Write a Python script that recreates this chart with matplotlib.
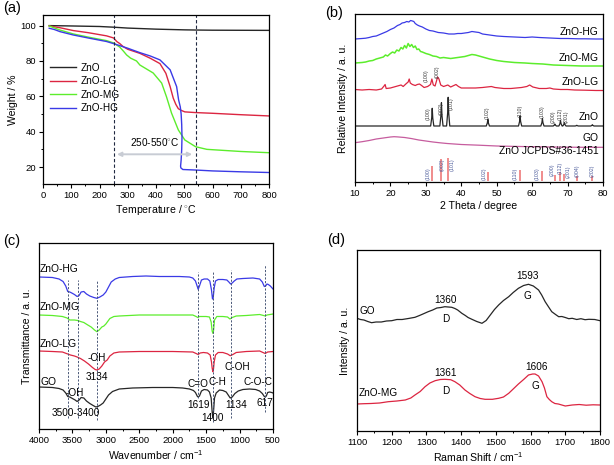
import numpy as np
import matplotlib
matplotlib.use("Agg")
import matplotlib.pyplot as plt
from matplotlib.ticker import MultipleLocator, NullLocator

plt.rcParams['font.family'] = ['Liberation Sans', 'DejaVu Sans']
plt.rcParams['mathtext.fontset'] = 'custom'
plt.rcParams['mathtext.rm'] = 'Liberation Sans'

# ---------------- (a) TGA data ----------------
tga_labels = ["ZnO", "ZnO-LG", "ZnO-MG", "ZnO-HG"]
tga_zno_T = [22, 100, 200, 250, 300, 400, 500, 540, 600, 700, 800]
tga_zno_W = [100, 99.8, 99.5, 99.1, 98.6, 98.0, 97.6, 97.5, 97.4, 97.35, 97.3]
tga_lg_T = [22, 60, 107, 160, 225, 250, 261, 272, 284, 300, 343, 380, 414, 435, 450, 461, 470, 479, 490, 502, 540, 600, 700, 800]
tga_lg_W = [99.8, 98.8, 97.2, 96.0, 94.2, 93.0, 91.0, 89.8, 88.1, 86.6, 84.3, 81.5, 78.5, 73.0, 65.5, 59.0, 55.5, 53.0, 52.0, 51.2, 50.8, 50.4, 49.6, 48.9]
tga_mg_T = [22, 60, 107, 160, 225, 250, 272, 285, 296, 310, 331, 343, 390, 420, 437, 455, 479, 502, 540, 580, 650, 700, 800]
tga_mg_W = [99.8, 97.5, 95.3, 93.5, 91.5, 90.2, 87.8, 85.5, 83.4, 81.6, 80.0, 77.7, 73.2, 67.5, 59.8, 50.5, 41.0, 35.3, 31.5, 30.0, 29.3, 28.8, 28.1]
tga_hg_T = [22, 40, 60, 107, 160, 225, 250, 300, 343, 380, 414, 450, 473, 480, 486, 489, 491, 492, 491, 489, 487, 488, 495, 540, 600, 700, 800]
tga_hg_W = [98.5, 97.8, 96.6, 94.7, 93.0, 91.0, 89.8, 87.2, 84.7, 82.8, 80.6, 75.0, 65.5, 58.0, 54.0, 50.0, 44.0, 37.0, 30.0, 24.0, 20.5, 19.5, 18.6, 18.3, 17.8, 17.3, 16.9]
tga_marks = [250, 540]
tga_range_text = "250-550$^{\\circ}$C"

# ---------------- (b) XRD data ----------------
xrd_labels = ["ZnO-HG", "ZnO-MG", "ZnO-LG", "ZnO", "GO", "ZnO JCPDS#36-1451"]
xrd_hg_x = [10, 12, 13, 14, 15, 16, 17, 18, 19, 20, 21, 22, 22.7, 23.3, 24, 24.6, 25.2, 25.7, 26.2, 26.6, 27, 27.6, 28.2, 29, 30, 31, 32, 33.5, 35, 36.5, 38, 39, 40, 41, 42, 43, 44, 45, 46, 48, 50, 52, 55, 58, 60, 62, 65, 68, 70, 73, 75, 78, 80]
xrd_hg_y = [143, 143.5, 143.8, 144.5, 145.5, 146, 147.5, 149, 150.5, 152.5, 154, 156.5, 157.5, 159, 159.5, 160.5, 160, 161.5, 161, 160.5, 158.5, 157, 156, 155, 153, 151.5, 151, 149.5, 149, 148, 148, 148.5, 148.5, 149, 149.5, 150.5, 150, 149.5, 148, 147, 146, 145.5, 145, 144.5, 145, 144.5, 144, 143.5, 143.5, 143.2, 143.2, 143, 143]
xrd_mg_x = [10, 12, 13, 14, 15, 16, 17, 18, 18.6, 19.2, 20, 20.6, 21.2, 21.8, 22.4, 23, 23.5, 24, 24.5, 25, 25.5, 26, 26.5, 27, 27.5, 28, 28.5, 29, 30, 31, 32, 33, 34, 35, 36, 37, 38, 39, 40, 41, 42, 43, 44, 45, 46, 48, 50, 52, 55, 58, 60, 63, 66, 70, 74, 77, 80]
xrd_mg_y = [119, 119.5, 120, 121, 121.5, 123, 124, 125, 127, 126, 128.5, 130, 129, 132, 131, 134.5, 133, 136.5, 134, 138.5, 135.5, 137.5, 134.5, 136, 132.5, 133, 130.5, 130, 128.5, 127.5, 126, 125.5, 124, 124.5, 124, 123.5, 124, 124.5, 125, 125.5, 126.5, 127.5, 127, 126, 125, 123, 121.5, 120.5, 119.5, 119, 118.5, 118, 117, 116.5, 116, 116, 116]
xrd_lg_x = [10, 12, 14, 16, 17.5, 18.2, 18.5, 18.8, 20, 21.5, 22.5, 23, 23.6, 24.5, 25, 25.3, 25.6, 26.2, 27, 27.6, 28.2, 28.8, 29.5, 30.5, 31.3, 31.7, 32.1, 32.6, 33.0, 33.3, 33.7, 34.2, 35, 36.2, 37, 38.5, 39.2, 40, 42, 44, 46, 48.5, 49.5, 52, 54, 55.5, 57, 58.5, 59.3, 60.2, 62, 64, 65, 66, 68, 70, 72, 75, 78, 80]
xrd_lg_y = [92.5, 92, 92.5, 92, 93, 96, 97.5, 93.5, 94, 95.5, 96.5, 97, 95.5, 98.5, 100, 103, 99, 97.5, 96.5, 97.5, 98, 96.5, 94.5, 95.5, 97.5, 103, 97, 96, 101, 105, 103, 97, 95.5, 97, 95, 97.5, 95.5, 94, 94, 94, 94.5, 95.5, 94.5, 93.5, 93.5, 94, 94.5, 95.5, 97, 95, 93.5, 93.5, 94, 93, 92.5, 92.5, 92, 91.8, 91.5, 91.5]
zno_peak_pos = [31.8, 34.4, 36.3, 47.5, 56.6, 62.9, 66.4, 68.0, 69.1, 72.6, 77.0]
zno_peak_int = [73.7, 79.3, 84.7, 62.7, 66.0, 63.3, 58.0, 61.3, 59.3, 56.7, 57.3]
zno_base = 56.0
xrd_go_x = [10, 12, 14, 16, 18, 20, 21, 22, 24, 26, 28, 30, 32, 34, 36, 38, 40, 45, 50, 55, 60, 65, 70, 75, 80]
xrd_go_y = [39.3, 40.3, 41.5, 43.0, 44.0, 45.0, 45.3, 45.1, 44.5, 43.4, 42.0, 41.0, 40.0, 39.2, 38.5, 38.0, 37.5, 36.8, 36.0, 35.6, 35.3, 35.0, 34.8, 34.7, 34.7]
jcpds_pos = [31.8, 34.4, 36.3, 47.5, 56.6, 62.9, 66.4, 68.0, 69.1, 72.6, 77.0]
jcpds_int = [15.3, 22.7, 23.7, 9.3, 11.3, 10.3, 6.0, 9.3, 7.0, 5.3, 5.3]
jcpds_hkl = ["(100)", "(002)", "(101)", "(102)", "(110)", "(103)", "(200)", "(112)", "(201)", "(004)", "(202)"]
jcpds_lab_x = [30.5, 34.5, 37.3, 46.4, 55.2, 61.4, 65.7, 67.9, 70.2, 72.8, 76.8]
jcpds_lab_y = [2.5, 11, 11, 2.5, 2.5, 2.5, 6, 8, 4, 5, 5]
zno_hkl = ["(100)", "(002)", "(101)", "(102)", "(110)", "(103)", "(200)", "(112)", "(201)"]
zno_lab_x = [30.7, 34.3, 37.1, 47.4, 56.6, 62.7, 66.0, 67.9, 69.7]
zno_lab_y = [62, 67, 72, 63, 65, 64, 59, 62, 59]
lg_hkl = ["(100)", "(002)"]
lg_lab_x = [30.1, 33.2]
lg_lab_y = [99.5, 104]

# ---------------- (c) FTIR data ----------------
ftir_labels = ["ZnO-HG", "ZnO-MG", "ZnO-LG", "GO"]
ftir_hg_x = [4000, 3800, 3700, 3640, 3600, 3570, 3540, 3510, 3470, 3430, 3400, 3370, 3330, 3290, 3240, 3180, 3134, 3090, 3040, 3000, 2960, 2920, 2860, 2800, 2600, 2400, 2200, 1900, 1750, 1700, 1660, 1630, 1619, 1600, 1570, 1530, 1480, 1445, 1420, 1405, 1395, 1380, 1360, 1320, 1250, 1190, 1160, 1134, 1110, 1080, 1040, 950, 800, 700, 660, 630, 610, 590, 570, 540, 500]
ftir_hg_y = [152, 151.5, 150, 147.5, 143, 137.5, 137, 136, 134.5, 132.5, 133.5, 137, 137.5, 135, 133, 131.5, 130.7, 132, 134, 137, 142, 147, 150, 151.5, 152.5, 153, 152.5, 152.5, 152, 151, 148, 142, 139.7, 143, 149, 150, 150, 148, 139, 130, 131, 141, 148, 149.5, 149.5, 149, 147, 145, 146, 148, 150, 150.5, 151, 150, 147, 142.5, 143, 145, 144.5, 143, 140]
ftir_mg_x = [4000, 3800, 3650, 3580, 3540, 3470, 3420, 3380, 3330, 3270, 3220, 3170, 3134, 3100, 3060, 3030, 3000, 2940, 2880, 2800, 2500, 2000, 1700, 1650, 1625, 1600, 1500, 1450, 1425, 1410, 1400, 1390, 1375, 1340, 1250, 1180, 1144, 1110, 1050, 900, 700, 640, 617, 590, 500]
ftir_mg_y = [114, 113.5, 112.5, 111, 109, 109, 108.5, 107.5, 106.5, 104, 102, 99, 97.3, 99, 102, 103, 105, 110.5, 112.5, 113, 114, 114, 114, 112.5, 111.5, 112.5, 112.5, 112, 107, 98, 95.7, 98, 109, 112.5, 112.5, 112, 110, 111.5, 113, 113.5, 114.5, 113.5, 113, 114, 115]
ftir_lg_x = [4000, 3800, 3650, 3590, 3530, 3470, 3430, 3380, 3320, 3260, 3200, 3160, 3134, 3100, 3060, 3020, 2980, 2940, 2880, 2800, 2500, 2000, 1700, 1650, 1620, 1590, 1540, 1480, 1440, 1420, 1410, 1400, 1390, 1380, 1360, 1320, 1250, 1180, 1140, 1100, 1050, 900, 700, 650, 617, 580, 500]
ftir_lg_y = [78, 77.5, 77, 75.5, 74, 73, 72, 70.5, 68, 65, 61.5, 59.5, 59, 60, 63, 67, 69, 73, 76, 77, 77.5, 77.5, 77, 75.5, 74.5, 76, 76.5, 76, 74, 67, 61, 57.3, 60, 67, 74, 76.5, 76.5, 75, 73.3, 74.5, 76.5, 77.5, 78, 76.5, 75.5, 77, 77.5]
ftir_go_x = [4000, 3800, 3700, 3640, 3600, 3570, 3540, 3500, 3460, 3430, 3400, 3370, 3330, 3290, 3240, 3190, 3150, 3120, 3080, 3040, 3000, 2960, 2900, 2800, 2600, 2300, 2000, 1850, 1750, 1690, 1660, 1630, 1619, 1600, 1570, 1530, 1480, 1450, 1425, 1410, 1400, 1390, 1375, 1350, 1300, 1250, 1200, 1170, 1140, 1110, 1070, 1020, 950, 850, 760, 700, 660, 630, 617, 600, 580, 550, 520, 500]
ftir_go_y = [42, 41.5, 40.5, 39, 36, 32.5, 32, 30.5, 29, 27.5, 29, 31.5, 31, 28, 25.5, 23.5, 22, 22.5, 24, 26, 30, 34, 37.5, 40, 41, 41.5, 41.5, 41, 40, 38.5, 36.5, 32.5, 32, 33, 38, 39.5, 39, 37, 31, 17, 11, 17, 31, 36, 39, 38.5, 37, 34, 31, 32, 35.5, 38, 39.5, 40, 39.5, 38, 35.5, 32.5, 32, 33, 36.5, 37, 36.5, 36]
ftir_marks = [3560, 3420, 3134, 1619, 1400, 1134, 617]
ftir_mark_lo = [11, 11, 9, 31, 7, 11, 17]
ftir_mark_hi = [149, 149, 149, 157, 157, 159, 164]

# ---------------- (d) Raman data ----------------
raman_labels = ["GO", "ZnO-MG"]
raman_go_x = [1100, 1110, 1120, 1131, 1142, 1155, 1170, 1185, 1200, 1215, 1230, 1248, 1267, 1280, 1290, 1305, 1318, 1330, 1342, 1353, 1363, 1373, 1382, 1390, 1402, 1412, 1420, 1431, 1445, 1460, 1472, 1484, 1496, 1508, 1522, 1537, 1550, 1565, 1580, 1594, 1608, 1623, 1632, 1642, 1652, 1661, 1672, 1681, 1690, 1700, 1710, 1720, 1733, 1745, 1757, 1768, 1785, 1800]
raman_go_y = [112.7, 111.5, 111, 109.5, 108.3, 109, 109, 110, 110.3, 111.5, 111.5, 112.5, 113.7, 115.5, 117, 119.3, 121, 123, 123.5, 124.3, 124, 123.7, 122.5, 121, 117.7, 115.5, 113.5, 111.7, 109.5, 107.7, 110.5, 116, 121.5, 126, 130.5, 134.3, 138.5, 142.7, 145.5, 146.7, 145, 141, 136, 129.3, 124, 119.3, 116.5, 114.3, 114.5, 113.5, 112.3, 112.7, 111.5, 112.3, 111.3, 111.7, 111.5, 110.3]
raman_mg_x = [1100, 1120, 1140, 1165, 1190, 1215, 1239, 1255, 1267, 1282, 1296, 1310, 1325, 1340, 1353, 1370, 1382, 1396, 1411, 1425, 1440, 1455, 1469, 1490, 1508, 1522, 1537, 1550, 1565, 1580, 1594, 1606, 1613, 1623, 1633, 1640, 1647, 1654, 1661, 1670, 1680, 1690, 1700, 1720, 1740, 1760, 1780, 1800]
raman_mg_y = [27, 27.3, 27.5, 28, 29.3, 30, 31, 33, 36, 39.5, 44.3, 48, 50.3, 51.5, 51.7, 51.3, 49.3, 46, 41, 37.5, 34.3, 32.5, 31.7, 31.7, 32.7, 34, 37.7, 42, 47, 51.5, 56, 57, 57, 55, 49.3, 43, 34.3, 31.5, 29.3, 27.5, 27, 26, 25, 26, 26.5, 25.8, 26.2, 26]

COL_BLACK = '#262626'
COL_RED = '#dc2541'
COL_GREEN = '#5ced2c'
COL_BLUE = '#3a3ae6'
COL_GO = '#c65c9e'
COL_BAR = '#f08c8c'
COL_DASH = '#4a5878'

W, H = 614, 465
fig = plt.figure(figsize=(W / 100, H / 100), dpi=100)


def px_axes(l, t, r, b):
    return fig.add_axes([l / W, 1 - b / H, (r - l) / W, (b - t) / H])


TICK = 6.8
LAB = 7.6


def style(ax):
    for s in ax.spines.values():
        s.set_linewidth(0.9)
    ax.tick_params(which='major', direction='out', length=3, width=0.8, labelsize=TICK, pad=2)
    ax.tick_params(which='minor', direction='out', length=1.6, width=0.7)


# ---------------- (a) ----------------
axa = px_axes(43, 15, 269, 184)
for xs, ys, c, lab in [(tga_zno_T, tga_zno_W, COL_BLACK, tga_labels[0]),
                       (tga_lg_T, tga_lg_W, COL_RED, tga_labels[1]),
                       (tga_mg_T, tga_mg_W, COL_GREEN, tga_labels[2]),
                       (tga_hg_T, tga_hg_W, COL_BLUE, tga_labels[3])]:
    axa.plot(xs, ys, color=c, lw=1.0, label=lab)
for m in tga_marks:
    axa.axvline(m, color='#202840', ls=(0, (3, 2)), lw=0.8)
axa.annotate('', xy=(tga_marks[0] + 2, 27.2), xytext=(tga_marks[1] - 2, 27.2),
             arrowprops=dict(arrowstyle='<|-|>', color='#c8ccd4', lw=1.4, mutation_scale=6))
axa.text(395, 30.5, tga_range_text, ha='center', va='bottom', fontsize=7.2)
axa.set_xlim(0, 800)
axa.set_ylim(10.4, 106)
axa.xaxis.set_major_locator(MultipleLocator(100))
axa.xaxis.set_minor_locator(MultipleLocator(50))
axa.yaxis.set_major_locator(MultipleLocator(20))
axa.yaxis.set_minor_locator(MultipleLocator(10))
axa.set_xlabel('Temperature / $^{\\circ}$C', fontsize=LAB, labelpad=2)
axa.set_ylabel('Weight / %', fontsize=LAB, labelpad=2)
style(axa)
axa.legend(loc='upper left', bbox_to_anchor=(0.0, 0.76), frameon=False, fontsize=7.2,
           handlelength=2.6, handletextpad=0.5, labelspacing=0.35, borderaxespad=0.3)

# ---------------- (b) ----------------
axb = px_axes(355, 14, 603, 182)
axb.plot(xrd_hg_x, xrd_hg_y, color=COL_BLUE, lw=0.9)
axb.plot(xrd_mg_x, xrd_mg_y, color=COL_GREEN, lw=1.1)
axb.plot(xrd_lg_x, xrd_lg_y, color=COL_RED, lw=0.9)
zx, zy = [10.0], [zno_base]
for p, h in zip(zno_peak_pos, zno_peak_int):
    zx += [p - 0.45, p - 0.15, p, p + 0.15, p + 0.45]
    zy += [zno_base, zno_base + (h - zno_base) * 0.45, h, zno_base + (h - zno_base) * 0.45, zno_base]
zx.append(80.0)
zy.append(zno_base)
axb.plot(zx, zy, color=COL_BLACK, lw=0.9)
axb.plot(xrd_go_x, xrd_go_y, color=COL_GO, lw=0.9)
axb.vlines(jcpds_pos, 0.5, [0.5 + v for v in jcpds_int], color=COL_BAR, lw=1.4)
for t, x, y in zip(jcpds_hkl, jcpds_lab_x, jcpds_lab_y):
    axb.text(x, y, t, rotation=90, ha='center', va='bottom', fontsize=3.8, color='#4a5a9a')
for t, x, y in zip(zno_hkl, zno_lab_x, zno_lab_y):
    axb.text(x, y, t, rotation=90, ha='center', va='bottom', fontsize=3.8, color='#3a3a3a')
for t, x, y in zip(lg_hkl, lg_lab_x, lg_lab_y):
    axb.text(x, y, t, rotation=90, ha='center', va='bottom', fontsize=3.8, color='#3a3a3a')
for t, y in zip(xrd_labels, [150, 124, 100, 65, 44, 31]):
    axb.text(78.8, y, t, ha='right', va='center', fontsize=7.4)
axb.set_xlim(10, 80)
axb.set_ylim(0, 168)
axb.xaxis.set_major_locator(MultipleLocator(10))
axb.xaxis.set_minor_locator(MultipleLocator(5))
axb.yaxis.set_major_locator(NullLocator())
axb.set_xlabel('2 Theta / degree', fontsize=LAB, labelpad=2)
axb.set_ylabel('Relative Intensity / a. u.', fontsize=LAB, labelpad=5)
style(axb)

# ---------------- (c) ----------------
axc = px_axes(39, 243, 273, 429)
axc.plot(ftir_hg_x, ftir_hg_y, color=COL_BLUE, lw=0.9)
axc.plot(ftir_mg_x, ftir_mg_y, color=COL_GREEN, lw=0.9)
axc.plot(ftir_lg_x, ftir_lg_y, color=COL_RED, lw=0.9)
axc.plot(ftir_go_x, ftir_go_y, color=COL_BLACK, lw=0.9)
for m, lo, hi in zip(ftir_marks, ftir_mark_lo, ftir_mark_hi):
    axc.plot([m, m], [lo, hi], color=COL_DASH, ls=(0, (2.2, 1.6)), lw=0.7)
for t, y in zip(ftir_labels, [160, 121.5, 85, 47.5]):
    axc.text(3985, y, t, ha='left', va='center', fontsize=7.4)
FS = 7.2
axc.text(3134, 71, '-OH', ha='center', va='center', fontsize=FS)
axc.text(3134, 52.5, '3134', ha='center', va='center', fontsize=FS)
axc.text(3460, 36, '-OH', ha='center', va='center', fontsize=FS)
axc.text(3450, 16, '3500-3400', ha='center', va='center', fontsize=FS)
axc.text(1630, 45, 'C=O', ha='center', va='center', fontsize=FS)
axc.text(1330, 47.5, 'C-H', ha='center', va='center', fontsize=FS)
axc.text(1619, 24, '1619', ha='center', va='center', fontsize=FS)
axc.text(1400, 10.7, '1400', ha='center', va='center', fontsize=FS)
axc.text(1040, 62.5, 'C-OH', ha='center', va='center', fontsize=FS)
axc.text(1050, 24, '1134', ha='center', va='center', fontsize=FS)
axc.text(720, 47.5, 'C-O-C', ha='center', va='center', fontsize=FS)
axc.text(620, 25.7, '617', ha='center', va='center', fontsize=FS)
axc.set_xlim(4000, 500)
axc.set_ylim(0, 186)
axc.xaxis.set_major_locator(MultipleLocator(500))
axc.xaxis.set_minor_locator(MultipleLocator(250))
axc.yaxis.set_major_locator(NullLocator())
axc.set_xlabel('Wavenumber / cm$^{-1}$', fontsize=LAB, labelpad=2)
axc.set_ylabel('Transmittance / a. u.', fontsize=LAB, labelpad=5)
style(axc)

# ---------------- (d) ----------------
axd = px_axes(357, 250, 600, 431)
axd.plot(raman_go_x, raman_go_y, color=COL_BLACK, lw=0.9)
axd.plot(raman_mg_x, raman_mg_y, color=COL_RED, lw=0.9)
axd.text(1592, 155, '1593', ha='center', va='center', fontsize=FS)
axd.text(1592, 135, 'G', ha='center', va='center', fontsize=FS)
axd.text(1355, 131, '1360', ha='center', va='center', fontsize=FS)
axd.text(1357, 111.7, 'D', ha='center', va='center', fontsize=FS)
axd.text(1108, 120, raman_labels[0], ha='left', va='center', fontsize=FS)
axd.text(1355, 58.3, '1361', ha='center', va='center', fontsize=FS)
axd.text(1357, 40, 'D', ha='center', va='center', fontsize=FS)
axd.text(1618, 64.3, '1606', ha='center', va='center', fontsize=FS)
axd.text(1613, 45, 'G', ha='center', va='center', fontsize=FS)
axd.text(1104, 38.3, raman_labels[1], ha='left', va='center', fontsize=FS)
axd.set_xlim(1100, 1800)
axd.set_ylim(0, 181)
axd.xaxis.set_major_locator(MultipleLocator(100))
axd.xaxis.set_minor_locator(MultipleLocator(50))
axd.yaxis.set_major_locator(NullLocator())
axd.set_xlabel('Raman Shift / cm$^{-1}$', fontsize=LAB, labelpad=2)
axd.set_ylabel('Intensity / a. u.', fontsize=LAB, labelpad=5)
style(axd)

# panel labels
for t, x, y in [('(a)', 12, 8), ('(b)', 334, 13), ('(c)', 12, 241), ('(d)', 336, 240)]:
    fig.text(x / W, 1 - y / H, t, ha='center', va='center', fontsize=10.5)

fig.savefig('out.png', dpi=100)
